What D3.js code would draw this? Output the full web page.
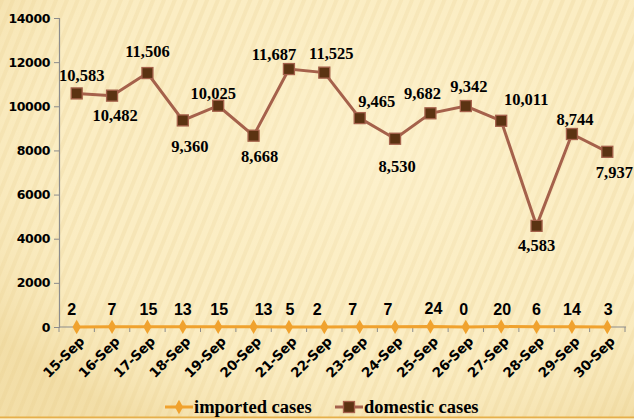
<!DOCTYPE html>
<html>
<head>
<meta charset="utf-8">
<script src="https://cdn.jsdelivr.net/npm/d3@7"></script>
<style>
  body { margin: 0; }
  svg { display: block; }
</style>
</head>
<body>
<div id="chart"></div>
<script>
// chart values
var dates = ["15-Sep","16-Sep","17-Sep","18-Sep","19-Sep","20-Sep","21-Sep","22-Sep",
             "23-Sep","24-Sep","25-Sep","26-Sep","27-Sep","28-Sep","29-Sep","30-Sep"];
var imported = [2,7,15,13,15,13,5,2,7,7,24,0,20,6,14,3];
var domestic = [10583,10482,11506,9360,10025,8668,11687,11525,9465,8530,9682,10011,9342,4583,8744,7937];
// labels as printed on the original (26/27 are swapped there)
var domesticLabels = ["10,583","10,482","11,506","9,360","10,025","8,668","11,687","11,525",
                      "9,465","8,530","9,682","9,342","10,011","4,583","8,744","7,937"];
var yTicks = [0,2000,4000,6000,8000,10000,12000,14000];
var seriesNames = ["imported cases","domestic cases"];

// label placement (layout only)
var domOff = [[5,-18],[3,20],[0,-22],[7,26],[-5,-13],[6,21],[-15,-15],[7,-19],
              [17,-17],[2,27],[-8,-20],[3,-20],[25,-22],[0,19],[3,-15],[7,20]];
var impDx = [-5,0,1,0,1,10,1,-7,-7,-7,3,-2,1,0,0,1];

var W = 634, H = 420;
var plotL = 59, plotR = 625, plotT = 18, plotB = 327;
var domColor = "#A5614B", domFill = "#5B3312", impColor = "#F0A22E";

var svg = d3.select("#chart").append("svg")
    .attr("width", W).attr("height", H);

var defs = svg.append("defs");
var pat = defs.append("pattern")
    .attr("id", "stripes").attr("patternUnits", "userSpaceOnUse")
    .attr("width", 10).attr("height", 10)
    .attr("patternTransform", "rotate(22)");
pat.append("rect").attr("width", 4).attr("height", 10)
    .attr("fill", "#EDD69E").attr("opacity", 0.35);

var vig = defs.append("radialGradient").attr("id", "vig")
    .attr("cx", "60%").attr("cy", "35%").attr("r", "75%");
vig.append("stop").attr("offset", "0%").attr("stop-color", "#FFF6D8").attr("stop-opacity", 0.5);
vig.append("stop").attr("offset", "60%").attr("stop-color", "#FCEFC6").attr("stop-opacity", 0);
vig.append("stop").attr("offset", "100%").attr("stop-color", "#E8CC86").attr("stop-opacity", 0.45);

svg.append("rect").attr("width", W).attr("height", H).attr("fill", "#FBEDC3");
svg.append("rect").attr("width", W).attr("height", H).attr("fill", "url(#stripes)");
svg.append("rect").attr("width", W).attr("height", H).attr("fill", "url(#vig)");
svg.append("line").attr("x1", 0).attr("x2", W).attr("y1", 417.5).attr("y2", 417.5)
    .attr("stroke", "#E6B04A").attr("stroke-width", 2);
svg.append("rect").attr("y", 418.5).attr("width", W).attr("height", 2).attr("fill", "#FBEFD0");

var x = d3.scaleBand().domain(dates).range([plotL, plotR]).padding(0);
var y = d3.scaleLinear().domain([0, 14000]).range([plotB, plotT]);
var cx = function(d) { return x(d) + x.bandwidth() / 2; };

// y axis
var yAxis = svg.append("g").attr("transform", "translate(" + plotL + ",0)")
    .call(d3.axisLeft(y).tickValues(yTicks).tickSize(5).tickPadding(4).tickFormat(d3.format("d")));
yAxis.select(".domain").attr("stroke", "#8C8C8C").attr("stroke-width", 1.2);
yAxis.selectAll(".tick line").attr("stroke", "#8C8C8C");
yAxis.selectAll("text")
    .attr("font-family", "DejaVu Sans, Verdana, sans-serif")
    .attr("font-weight", "bold").attr("font-size", 12.5).attr("fill", "#000")
    .attr("letter-spacing", -0.4);

// x axis with ticks at category boundaries
var xg = svg.append("g");
xg.append("line").attr("x1", plotL).attr("x2", plotR + 1)
    .attr("y1", plotB).attr("y2", plotB)
    .attr("stroke", "#8C8C8C").attr("stroke-width", 1.2);
xg.selectAll(".bt").data(dates.concat(["end"])).enter().append("line")
    .attr("x1", function(d, i) { return plotL + i * x.bandwidth(); })
    .attr("x2", function(d, i) { return plotL + i * x.bandwidth(); })
    .attr("y1", plotB).attr("y2", plotB + 5)
    .attr("stroke", "#8C8C8C");
xg.selectAll(".xl").data(dates).enter().append("text")
    .attr("transform", function(d) { return "translate(" + (cx(d) + 5) + "," + (plotB + 12) + ") rotate(-45)"; })
    .attr("text-anchor", "end")
    .attr("dy", "0.35em")
    .attr("font-family", "DejaVu Sans, Verdana, sans-serif")
    .attr("font-weight", "bold").attr("font-size", 13.5).attr("fill", "#000")
    .attr("letter-spacing", -0.3)
    .text(function(d) { return d; });

// domestic line
var line = d3.line().x(function(d, i) { return cx(dates[i]); }).y(function(d) { return y(d); });
svg.append("path").datum(domestic).attr("d", line)
    .attr("fill", "none").attr("stroke", domColor).attr("stroke-width", 3);
svg.selectAll(".dm").data(domestic).enter().append("rect")
    .attr("x", function(d, i) { return cx(dates[i]) - 5.5; })
    .attr("y", function(d) { return y(d) - 5.5; })
    .attr("width", 11).attr("height", 11)
    .attr("fill", domFill).attr("stroke", domColor).attr("stroke-width", 1.3);
svg.selectAll(".dl").data(domestic).enter().append("text")
    .attr("x", function(d, i) { return cx(dates[i]) + domOff[i][0]; })
    .attr("y", function(d, i) { return y(d) + domOff[i][1]; })
    .attr("dy", "0.35em").attr("text-anchor", "middle")
    .attr("font-family", "Liberation Serif, Times New Roman, serif")
    .attr("font-weight", "bold").attr("font-size", 16.5).attr("fill", "#000")
    .text(function(d, i) { return domesticLabels[i]; });

// imported line
svg.append("path").datum(imported).attr("d", line)
    .attr("fill", "none").attr("stroke", impColor).attr("stroke-width", 3);
var diamond = d3.symbol().type(d3.symbolDiamond).size(60);
svg.selectAll(".im").data(imported).enter().append("path")
    .attr("d", diamond)
    .attr("transform", function(d, i) { return "translate(" + cx(dates[i]) + "," + y(d) + ")"; })
    .attr("fill", impColor);
svg.selectAll(".il").data(imported).enter().append("text")
    .attr("x", function(d, i) { return cx(dates[i]) + impDx[i]; })
    .attr("y", function(d) { return y(d) - 12; })
    .attr("text-anchor", "middle")
    .attr("font-family", "Liberation Sans, Arial, sans-serif")
    .attr("font-weight", "bold").attr("font-size", 16).attr("fill", "#000")
    .text(function(d) { return d; });

// legend
var ly = 407;
var leg = svg.append("g");
var legX = [165, 335];
leg.selectAll(".ll").data(seriesNames).enter().append("line")
    .attr("x1", function(d, i) { return legX[i]; })
    .attr("x2", function(d, i) { return legX[i] + 28; })
    .attr("y1", ly).attr("y2", ly)
    .attr("stroke", function(d, i) { return i ? domColor : impColor; })
    .attr("stroke-width", 3);
leg.append("path").attr("d", diamond)
    .attr("transform", "translate(" + (legX[0] + 14) + "," + ly + ")").attr("fill", impColor);
leg.append("rect").attr("x", legX[1] + 8.5).attr("y", ly - 5.5)
    .attr("width", 11).attr("height", 11)
    .attr("fill", domFill).attr("stroke", domColor).attr("stroke-width", 1.3);
leg.selectAll(".lt").data(seriesNames).enter().append("text")
    .attr("x", function(d, i) { return legX[i] + 29; })
    .attr("y", ly).attr("dy", "0.35em")
    .attr("font-family", "Liberation Serif, Times New Roman, serif")
    .attr("font-weight", "bold").attr("font-size", 18.5).attr("fill", "#000")
    .text(function(d) { return d; });
</script>
</body>
</html>
